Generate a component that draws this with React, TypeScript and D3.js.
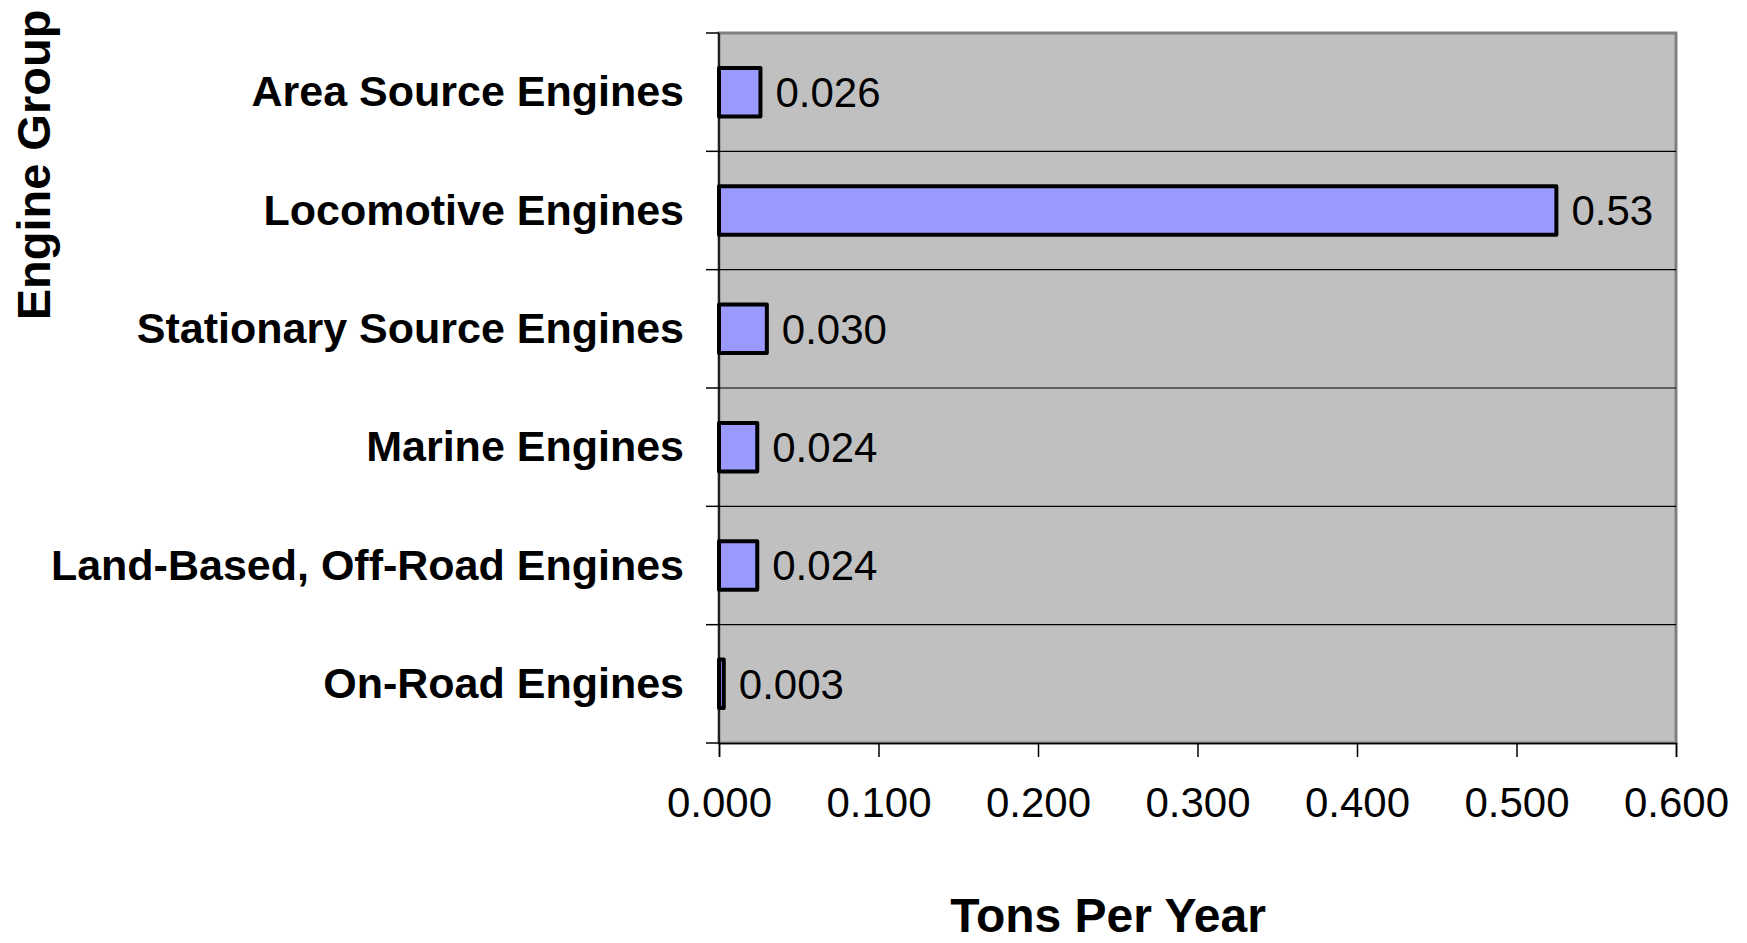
import React, { useEffect, useRef } from 'react';
import * as d3 from 'd3';

// data
const engineGroups = [
  'Area Source Engines',
  'Locomotive Engines',
  'Stationary Source Engines',
  'Marine Engines',
  'Land-Based, Off-Road Engines',
  'On-Road Engines',
];
const tonsPerYear = [0.026, 0.525, 0.03, 0.024, 0.024, 0.003];
const valueLabels = ['0.026', '0.53', '0.030', '0.024', '0.024', '0.003'];
const xTicks = [0, 0.1, 0.2, 0.3, 0.4, 0.5, 0.6];

const App: React.FC = () => {
  const ref = useRef<SVGSVGElement | null>(null);

  useEffect(() => {
    const W = 1747;
    const H = 943;
    const margin = { top: 33, right: 71, bottom: 200, left: 719 };
    const width = W - margin.left - margin.right;
    const height = H - margin.top - margin.bottom;
    const font = 'Liberation Sans, Arial, sans-serif';

    const root = d3.select(ref.current);
    root.selectAll('*').remove();
    const svg = root
      .append('g')
      .attr('transform', `translate(${margin.left},${margin.top})`);

    const x = d3.scaleLinear().domain([0, 0.6]).range([0, width]);
    const y = d3.scaleBand().domain(engineGroups).range([0, height]).padding(0);
    const rows = engineGroups.map((g, i) => ({ g, v: tonsPerYear[i], label: valueLabels[i] }));

    // plot area
    svg.append('rect')
      .attr('x', 0).attr('y', 0)
      .attr('width', width).attr('height', height)
      .attr('fill', '#c0c0c0')
      .attr('stroke', '#808080')
      .attr('stroke-width', 3);

    // gridlines between categories
    svg.append('g')
      .selectAll('line')
      .data(engineGroups.slice(1))
      .join('line')
      .attr('x1', 0).attr('x2', width)
      .attr('y1', d => y(d) || 0).attr('y2', d => y(d) || 0)
      .attr('stroke', '#000').attr('stroke-width', 1.2);

    // bars
    const barH = y.bandwidth() * 0.41;
    svg.append('g')
      .selectAll('rect')
      .data(rows)
      .join('rect')
      .attr('x', x(0))
      .attr('y', d => (y(d.g) || 0) + (y.bandwidth() - barH) / 2)
      .attr('width', d => x(d.v) - x(0))
      .attr('height', barH)
      .attr('fill', '#9999ff')
      .attr('stroke', '#000')
      .attr('stroke-width', 4)
      .attr('stroke-linejoin', 'round');

    // value labels
    svg.append('g')
      .selectAll('text')
      .data(rows)
      .join('text')
      .attr('x', d => x(d.v) + 15)
      .attr('y', d => (y(d.g) || 0) + y.bandwidth() / 2)
      .attr('dy', '0.35em')
      .style('font-family', font)
      .style('font-size', '42px')
      .attr('fill', '#000')
      .text(d => d.label);

    // x axis
    const xAxis = d3.axisBottom(x).tickValues(xTicks).tickFormat(d3.format('.3f')).tickSize(14).tickPadding(30);
    svg.append('g')
      .attr('transform', `translate(0,${height})`)
      .call(xAxis)
      .call(g => g.select('.domain').attr('stroke', '#000').attr('stroke-width', 1.5))
      .call(g => g.selectAll('.tick line').attr('stroke', '#000').attr('stroke-width', 1.5))
      .call(g => g.selectAll('.tick text')
        .style('font-family', font)
        .style('font-size', '42px')
        .attr('fill', '#000'));

    // y axis: ticks at category boundaries
    svg.append('line')
      .attr('x1', 0).attr('x2', 0).attr('y1', 0).attr('y2', height)
      .attr('stroke', '#000').attr('stroke-width', 1.5);
    const bounds = engineGroups.map(g => y(g) || 0).concat([height]);
    svg.append('g')
      .selectAll('line')
      .data(bounds)
      .join('line')
      .attr('x1', -13).attr('x2', 0)
      .attr('y1', d => d).attr('y2', d => d)
      .attr('stroke', '#000').attr('stroke-width', 1.5);

    svg.append('g')
      .selectAll('text')
      .data(engineGroups)
      .join('text')
      .attr('x', -35)
      .attr('y', d => (y(d) || 0) + y.bandwidth() / 2 - 1)
      .attr('dy', '0.35em')
      .attr('text-anchor', 'end')
      .style('font-family', font)
      .style('font-size', '43px')
      .style('font-weight', 'bold')
      .attr('fill', '#000')
      .text(d => d);

    // axis titles
    root.append('text')
      .attr('x', 1108)
      .attr('y', 932)
      .attr('text-anchor', 'middle')
      .style('font-family', font)
      .style('font-size', '48px')
      .style('font-weight', 'bold')
      .text('Tons Per Year');

    root.append('text')
      .attr('transform', 'translate(50,165) rotate(-90)')
      .attr('text-anchor', 'middle')
      .style('font-family', font)
      .style('font-size', '47px')
      .style('font-weight', 'bold')
      .text('Engine Group');
  }, []);

  return (
    <svg
      ref={ref}
      width={1747}
      height={943}
      style={{ position: 'absolute', left: 0, top: 0, background: '#fff' }}
    />
  );
};

export default App;
